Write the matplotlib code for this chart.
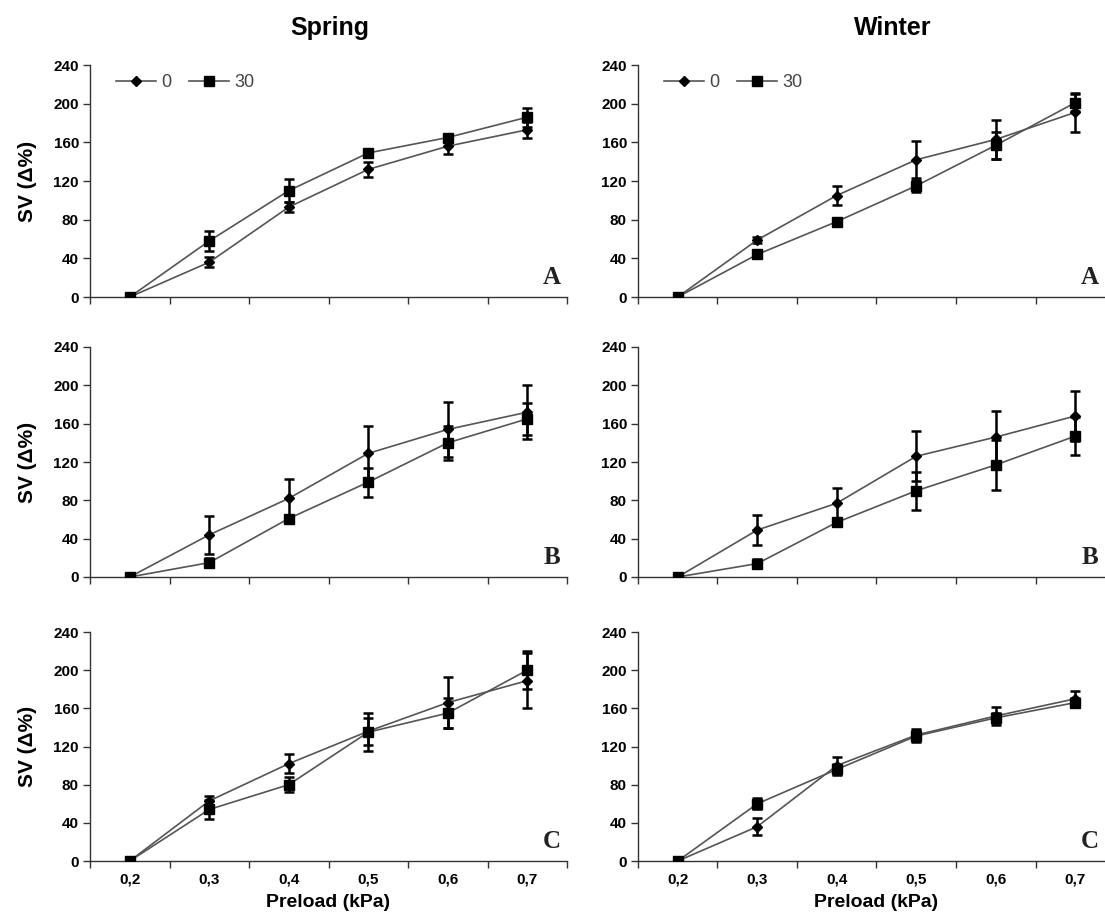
import numpy as np
import matplotlib
matplotlib.use('Agg')
import matplotlib.pyplot as plt
from matplotlib.ticker import FixedLocator
from matplotlib.lines import Line2D


# ─────────────────────────────────────────────
# Data
# ─────────────────────────────────────────────

PRELOAD = ['0,2', '0,3', '0,4', '0,5', '0,6', '0,7']
SERIES  = ['0', '30']
SEASONS = ['Spring', 'Winter']
PANELS  = ['A', 'B', 'C']

# Spring
spring_a_0      = [0, 36, 93, 132, 156, 173]
spring_a_0_err  = [0, 5, 5, 8, 8, 8]
spring_a_30     = [0, 58, 110, 149, 165, 186]
spring_a_30_err = [0, 10, 12, 4, 3, 10]

spring_b_0      = [0, 44, 82, 129, 154, 172]
spring_b_0_err  = [0, 20, 20, 29, 29, 28]
spring_b_30     = [0, 15, 61, 99, 140, 165]
spring_b_30_err = [0, 5, 4, 15, 18, 17]

spring_c_0      = [0, 63, 102, 136, 166, 189]
spring_c_0_err  = [0, 5, 10, 14, 27, 29]
spring_c_30     = [0, 54, 80, 135, 155, 200]
spring_c_30_err = [0, 10, 8, 20, 16, 20]

# Winter
winter_a_0      = [0, 59, 105, 142, 163, 191]
winter_a_0_err  = [0, 3, 10, 19, 20, 20]
winter_a_30     = [0, 44, 78, 115, 157, 201]
winter_a_30_err = [0, 4, 3, 6, 14, 9]

winter_b_0      = [0, 49, 77, 126, 146, 168]
winter_b_0_err  = [0, 16, 16, 26, 27, 26]
winter_b_30     = [0, 14, 57, 90, 117, 147]
winter_b_30_err = [0, 5, 4, 20, 26, 20]

winter_c_0      = [0, 36, 100, 132, 152, 170]
winter_c_0_err  = [0, 9, 9, 6, 9, 8]
winter_c_30     = [0, 60, 96, 131, 150, 166]
winter_c_30_err = [0, 6, 6, 6, 5, 5]

DATA = {
    ('Spring', 'A'): (spring_a_0, spring_a_0_err, spring_a_30, spring_a_30_err),
    ('Spring', 'B'): (spring_b_0, spring_b_0_err, spring_b_30, spring_b_30_err),
    ('Spring', 'C'): (spring_c_0, spring_c_0_err, spring_c_30, spring_c_30_err),
    ('Winter', 'A'): (winter_a_0, winter_a_0_err, winter_a_30, winter_a_30_err),
    ('Winter', 'B'): (winter_b_0, winter_b_0_err, winter_b_30, winter_b_30_err),
    ('Winter', 'C'): (winter_c_0, winter_c_0_err, winter_c_30, winter_c_30_err),
}

# ─────────────────────────────────────────────
# Layout (pixel based, 1105 x 922)
# ─────────────────────────────────────────────

W, H = 1105, 922
COL_X    = [90, 638]          # left edge of each column
LETTER_X = [552, 1090]        # panel letter centre
AX_W     = 477
ROW_Y    = [(65, 297), (347, 577), (632, 861)]   # (top, bottom)

TICK_FONT = 'Liberation Sans'
LINE_COL  = '#555555'
AXIS_COL  = '#333333'

MARKERS = {'0': ('D', 5), '30': ('s', 7)}

fig = plt.figure(figsize=(W / 100, H / 100), dpi=100)
x = np.arange(len(PRELOAD))

for c, season in enumerate(SEASONS):
    for r, panel in enumerate(PANELS):
        top, bot = ROW_Y[r]
        ax = fig.add_axes([COL_X[c] / W, 1 - bot / H, AX_W / W, (bot - top) / H])
        y0, e0, y30, e30 = DATA[(season, panel)]

        for name, yv, ev in [('0', y0, e0), ('30', y30, e30)]:
            mk, ms = MARKERS[name]
            ax.errorbar(x, yv, yerr=ev, color=LINE_COL, lw=1.2, marker=mk, ms=ms,
                        mfc='black', mec='black', ecolor='black', elinewidth=1.8,
                        capsize=3.5, capthick=1.8, zorder=3)

        ax.set_xlim(-0.5, len(PRELOAD) - 0.5)
        ax.set_ylim(0, 240)
        ax.set_yticks(np.arange(0, 241, 40))
        ax.set_xticks(x)
        ax.xaxis.set_minor_locator(FixedLocator(np.arange(-0.5, len(PRELOAD), 1.0)))
        ax.tick_params(axis='x', which='major', length=0, pad=8)
        ax.tick_params(axis='x', which='minor', length=5, direction='out',
                       color=AXIS_COL, width=1)
        ax.tick_params(axis='y', length=5, direction='out', color=AXIS_COL,
                       width=1, pad=3)

        for lab in ax.get_yticklabels():
            lab.set_fontfamily(TICK_FONT)
            lab.set_fontweight('bold')
            lab.set_fontsize(11)
        if r == len(PANELS) - 1:
            ax.set_xticklabels(PRELOAD, fontfamily=TICK_FONT, fontweight='bold',
                               fontsize=11)
            ax.set_xlabel('Preload (kPa)', fontsize=14, fontweight='bold',
                          fontfamily='Liberation Sans', labelpad=6)
        else:
            ax.set_xticklabels([])

        for side in ['top', 'right']:
            ax.spines[side].set_visible(False)
        for side in ['left', 'bottom']:
            ax.spines[side].set_color(AXIS_COL)
            ax.spines[side].set_linewidth(1)

        # Panel letter
        ax.text((LETTER_X[c] - COL_X[c]) / AX_W, 20 / 240, panel,
                transform=ax.transAxes, ha='center', va='center', fontsize=18,
                fontweight='bold', fontfamily='Liberation Serif', color='#222222')

        if c == 0:
            ax.set_ylabel('SV (\u0394%)', fontsize=15, fontweight='bold',
                          fontfamily='Liberation Sans', labelpad=12)

        if r == 0:
            handles = [Line2D([], [], color=LINE_COL, lw=1.2, marker=MARKERS[s][0],
                              ms=MARKERS[s][1], mfc='black', mec='black')
                       for s in SERIES]
            leg = ax.legend(handles, SERIES, loc='upper left',
                            bbox_to_anchor=(0.02, 1.03), ncol=2, frameon=False,
                            fontsize=13, handlelength=2.2, handletextpad=0.3,
                            columnspacing=1.0)
            for t in leg.get_texts():
                t.set_color('#444444')
                t.set_fontfamily('Liberation Sans')

# Column titles
fig.text(330 / W, 1 - 28 / H, 'Spring', ha='center', va='center', fontsize=18,
         fontweight='bold', fontfamily='Liberation Sans')
fig.text(893 / W, 1 - 28 / H, 'Winter', ha='center', va='center', fontsize=18,
         fontweight='bold', fontfamily='Liberation Sans')

fig.savefig('out.png', dpi=100)
plt.close(fig)
